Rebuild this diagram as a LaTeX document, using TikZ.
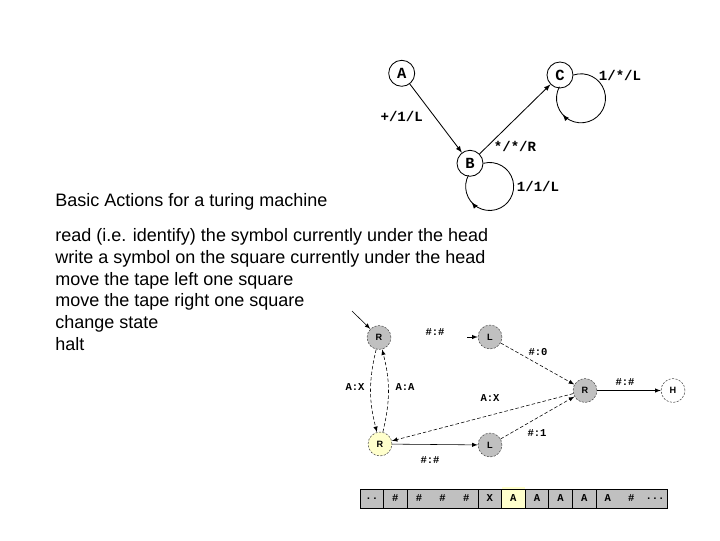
\documentclass[tikz,border=0pt]{standalone}
\usepackage{fontspec}
\setmainfont{Liberation Sans}
\newfontfamily\codefont{Liberation Mono}
\usetikzlibrary{decorations.markings}
\definecolor{stategray}{RGB}{192,192,192}
\definecolor{headyellow}{RGB}{255,255,204}
\begin{document}
\begin{tikzpicture}[x=0.025cm, y=0.025cm, >=latex,
  bigstate/.style={draw, circle, line width=0.6pt, minimum size=18.5pt, inner sep=0pt, font=\codefont\bfseries\fontsize{11}{12}\selectfont},
  biglabel/.style={font=\codefont\bfseries\fontsize{10}{12}\selectfont},
  bigedge/.style={->, line width=0.6pt},
  selfloop/.style={line width=0.6pt, postaction={decorate}, decoration={markings, mark=at position 0.78 with {\arrow{latex}}}},
  textblock/.style={anchor=base west, align=left, inner sep=0pt, font=\fontsize{12.8}{15.4}\selectfont},
  tmstate/.style={circle, draw=black!70, dash pattern=on 1.5pt off 1pt, fill=stategray, minimum size=17pt, inner sep=0pt, font=\bfseries\fontsize{6.5}{7}\selectfont},
  tmlabel/.style={font=\codefont\bfseries\fontsize{7.5}{8}\selectfont},
  tmedge/.style={->, line width=0.4pt},
  tmdash/.style={tmedge, dash pattern=on 2.5pt off 1.5pt},
  cell/.style={font=\codefont\bfseries\fontsize{7.5}{8}\selectfont}]
\useasboundingbox (0,0) rectangle (720,-540);

\node[bigstate] (A) at (401.7,-73.3) {A};
\node[bigstate] (C) at (560,-75) {C};
\node[bigstate] (B) at (470,-163.3) {B};
\node[biglabel] (ab) at (401.7,-116) {+/1/L};
\node[biglabel] (bc) at (515,-146) {*/*/R};
\node[biglabel] (cc) at (620,-75) {1/*/L};
\node[biglabel] (bb) at (538,-186.5) {1/1/L};

\draw[bigedge] (A) -- (B);
\draw[bigedge] (B) -- (C);
\draw[selfloop] (C.east) arc[start angle=108, end angle=-208, radius=24.5];
\draw[selfloop] (B.east) arc[start angle=105, end angle=-208, radius=24];

\node[textblock] (title) at (55,-206.7) {Basic Actions for a turing machine};
\node[textblock] (actions) at (55,-350) {read (i.e. identify) the symbol currently under the head\\write a symbol on the square currently under the head\\move the tape left one square\\move the tape right one square\\change state\\halt};

\node[tmstate] (r1) at (379,-337.5) {R};
\node[tmstate] (l1) at (490,-337) {L};
\node[tmstate] (r2) at (585,-390.5) {R};
\node[tmstate, fill=white] (h) at (673,-390.5) {H};
\node[tmstate, fill=headyellow] (r3) at (380,-444) {R};
\node[tmstate] (l2) at (490,-445) {L};
\coordinate (start) at (352,-311);
\coordinate (l1in) at (467,-337);

\draw[tmedge] (start) -- (r1);
\draw[tmedge] (l1in) -- (l1);
\draw[tmdash] (r1) to[bend right=14] (r3);
\draw[tmdash] (r3) to[bend right=14] (r1);
\draw[tmedge] (r3) -- (l2);
\draw[tmdash] (l1) -- (r2);
\draw[tmdash] (l2) -- (r2);
\draw[tmdash] (r2) -- (r3);
\draw[tmedge] (r2) -- (h);

\node[tmlabel] (t1) at (435,-332) {\#:\#};
\node[tmlabel] (t2) at (355,-387) {A:X};
\node[tmlabel] (t3) at (405,-387) {A:A};
\node[tmlabel] (t4) at (538,-352) {\#:0};
\node[tmlabel] (t5) at (490,-398) {A:X};
\node[tmlabel] (t6) at (625,-382) {\#:\#};
\node[tmlabel] (t7) at (537,-433) {\#:1};
\node[tmlabel] (t8) at (430,-460) {\#:\#};

\fill[stategray] (360,-489) rectangle (667,-508);
\fill[headyellow] (501.6,-487) rectangle (525.2,-508);
\draw[line width=0.5pt] (360,-489) rectangle (667,-508);
\draw[line width=0.5pt] (383.6,-489) -- (383.6,-508) (407.2,-489) -- (407.2,-508) (478,-489) -- (478,-508) (501.6,-489) -- (501.6,-508) (525.2,-489) -- (525.2,-508) (548.8,-489) -- (548.8,-508) (572.4,-489) -- (572.4,-508) (596,-489) -- (596,-508);
\node[cell] (c0) at (371.8,-498.5) {..};
\node[cell] (c1) at (395.4,-498.5) {\#};
\node[cell] (c2) at (419,-498.5) {\#};
\node[cell] (c3) at (442.6,-498.5) {\#};
\node[cell] (c4) at (466.2,-498.5) {\#};
\node[cell] (c5) at (489.8,-498.5) {X};
\node[cell] (c6) at (513.4,-498.5) {A};
\node[cell] (c7) at (537,-498.5) {A};
\node[cell] (c8) at (560.6,-498.5) {A};
\node[cell] (c9) at (584.2,-498.5) {A};
\node[cell] (c10) at (607.8,-498.5) {A};
\node[cell] (c11) at (631.4,-498.5) {\#};
\node[cell] (c12) at (655,-498.5) {...};
\end{tikzpicture}
\end{document}
